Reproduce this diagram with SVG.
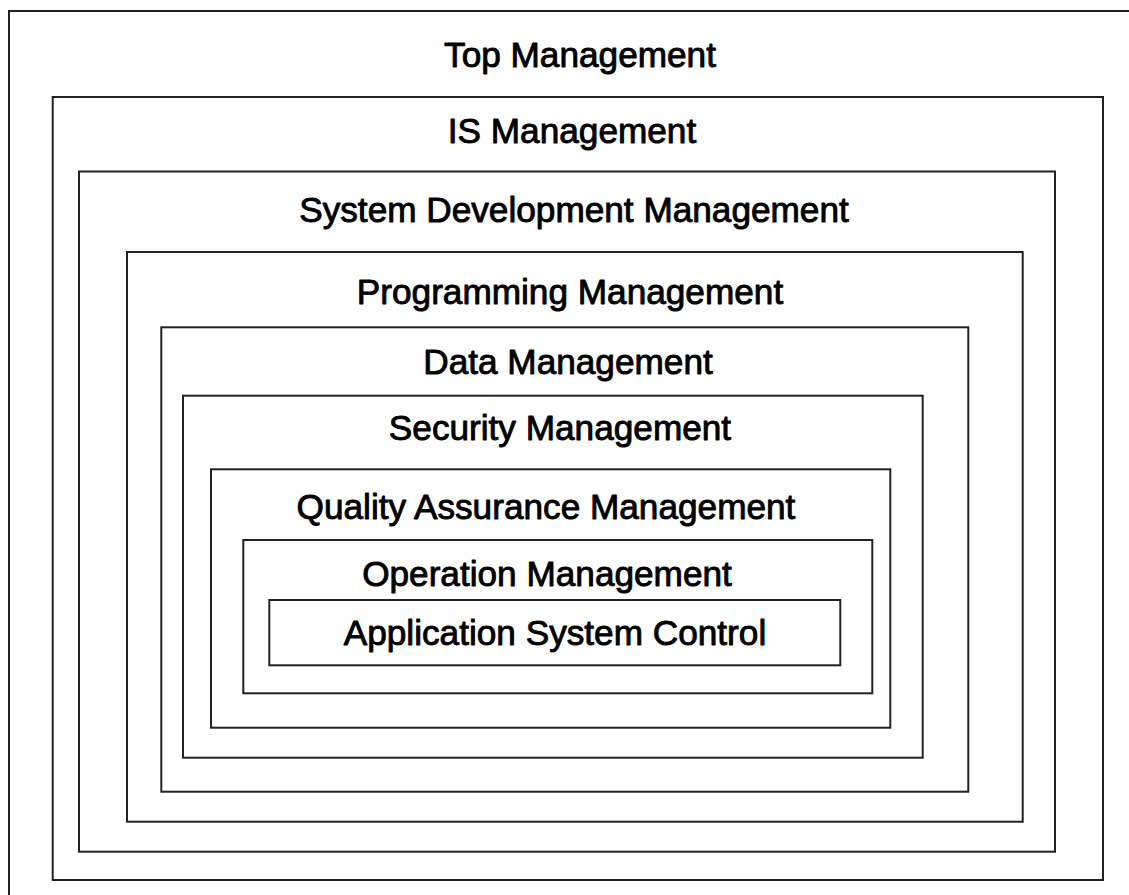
<svg xmlns="http://www.w3.org/2000/svg" width="1129" height="895" viewBox="0 0 1129 895">
  <style>
    .box { fill: none; stroke: #222; stroke-width: 2; }
    .lbl { font-family: "Liberation Sans", Arial, sans-serif; font-size: 35.2px; fill: #000; text-anchor: middle; stroke: #000; stroke-width: 0.9; stroke-linejoin: round; }
  </style>
  <rect width="1129" height="895" fill="#fff"/>
  <!-- nested management layers, outermost first; the outer frame runs past the canvas edge -->
  <g id="top-management">
    <rect class="box" x="9" y="11" width="1150" height="900"/>
    <text class="lbl" x="580" y="67">Top Management</text>
  </g>
  <g id="is-management">
    <rect class="box" x="52.7" y="97" width="1050.3" height="783"/>
    <text class="lbl" x="572" y="143">IS Management</text>
  </g>
  <g id="system-development-management">
    <rect class="box" x="79" y="171.5" width="976" height="680.2"/>
    <text class="lbl" x="574" y="222">System Development Management</text>
  </g>
  <g id="programming-management">
    <rect class="box" x="127" y="252" width="895.7" height="569.7"/>
    <text class="lbl" x="570" y="304">Programming Management</text>
  </g>
  <g id="data-management">
    <rect class="box" x="161.3" y="327.3" width="807" height="464.4"/>
    <text class="lbl" x="568" y="374">Data Management</text>
  </g>
  <g id="security-management">
    <rect class="box" x="183" y="395.7" width="739.7" height="362"/>
    <text class="lbl" x="560" y="440">Security Management</text>
  </g>
  <g id="quality-assurance-management">
    <rect class="box" x="211" y="469.3" width="679.3" height="258.4"/>
    <text class="lbl" x="546" y="519">Quality Assurance Management</text>
  </g>
  <g id="operation-management">
    <rect class="box" x="243.3" y="540" width="629" height="153.3"/>
    <text class="lbl" x="547" y="586">Operation Management</text>
  </g>
  <g id="application-system-control">
    <rect class="box" x="269.3" y="600" width="571" height="65.3"/>
    <text class="lbl" x="555" y="645">Application System Control</text>
  </g>
  <g id="connectors"/>
</svg>
